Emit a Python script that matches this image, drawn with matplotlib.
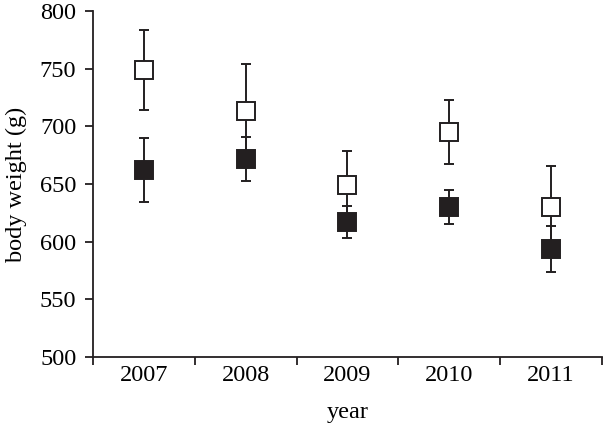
import matplotlib.pyplot as plt
import numpy as np

# values
years = ['2007', '2008', '2009', '2010', '2011']
open_mean = [749, 713, 649, 695, 630]
open_err = [35, 41, 30, 28, 36]
filled_mean = [662, 672, 617, 630, 594]
filled_err = [28, 19, 14, 15, 20]

ink = '#231f20'
plt.rcParams['font.family'] = ['Liberation Serif', 'DejaVu Serif']
plt.rcParams['font.size'] = 17.5

fig = plt.figure(figsize=(6.08, 4.26), dpi=100)
ax = fig.add_axes([0.153, 0.162, 0.837, 0.812])

x = np.arange(1, len(years) + 1)

# error bars first, markers on top
for mean, err in [(open_mean, open_err), (filled_mean, filled_err)]:
    ax.errorbar(x, mean, yerr=err, fmt='none', ecolor=ink,
                elinewidth=1.4, capsize=3.8, capthick=1.4, zorder=2)

ax.plot(x, open_mean, 's', ms=12.5, mfc='white', mec=ink, mew=1.4,
        linestyle='none', zorder=3)
ax.plot(x, filled_mean, 's', ms=12.5, mfc=ink, mec=ink, mew=1.4,
        linestyle='none', zorder=4)

ax.set_xlim(0.5, len(years) + 0.5)
ax.set_ylim(500, 800)
ax.set_yticks(np.arange(500, 801, 50))

# ticks sit between the years, labels under the middle
ax.set_xticks(np.arange(0.5, len(years) + 1, 1.0))
ax.set_xticklabels([])
ax.set_xticks(x, minor=True)
ax.set_xticklabels(years, minor=True)
ax.tick_params(axis='x', which='minor', length=0, pad=6)
ax.tick_params(axis='x', which='major', length=6, width=1.3, color=ink)
ax.tick_params(axis='y', length=6, width=1.3, color=ink, pad=6)

for side in ['top', 'right']:
    ax.spines[side].set_visible(False)
for side in ['left', 'bottom']:
    ax.spines[side].set_linewidth(1.3)
    ax.spines[side].set_color(ink)

ax.set_xlabel('year', labelpad=11)
ax.set_ylabel('body weight (g)', labelpad=9)

fig.savefig('out.png', dpi=100)
